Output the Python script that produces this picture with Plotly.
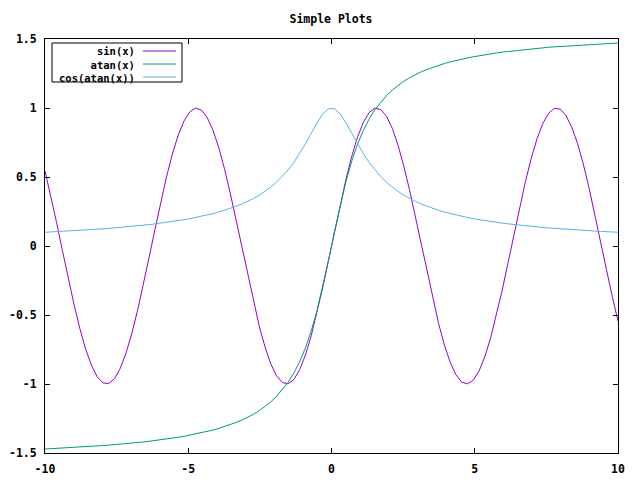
import plotly.graph_objects as go

x = [-10.000, -9.798, -9.596, -9.394, -9.192, -8.990, -8.788, -8.586, -8.384, -8.182,
     -7.980, -7.778, -7.576, -7.374, -7.172, -6.970, -6.768, -6.566, -6.364, -6.162,
     -5.960, -5.758, -5.556, -5.354, -5.152, -4.949, -4.747, -4.545, -4.343, -4.141,
     -3.939, -3.737, -3.535, -3.333, -3.131, -2.929, -2.727, -2.525, -2.323, -2.121,
     -1.919, -1.717, -1.515, -1.313, -1.111, -0.909, -0.707, -0.505, -0.303, -0.101,
     0.101, 0.303, 0.505, 0.707, 0.909, 1.111, 1.313, 1.515, 1.717, 1.919,
     2.121, 2.323, 2.525, 2.727, 2.929, 3.131, 3.333, 3.535, 3.737, 3.939,
     4.141, 4.343, 4.545, 4.747, 4.949, 5.152, 5.354, 5.556, 5.758, 5.960,
     6.162, 6.364, 6.566, 6.768, 6.970, 7.172, 7.374, 7.576, 7.778, 7.980,
     8.182, 8.384, 8.586, 8.788, 8.990, 9.192, 9.394, 9.596, 9.798, 10.000]

sin_x = [0.544, 0.365, 0.170, -0.031, -0.231, -0.421, -0.595, -0.744, -0.862, -0.946,
         -0.992, -0.997, -0.962, -0.887, -0.776, -0.634, -0.466, -0.279, -0.081, 0.121,
         0.318, 0.501, 0.665, 0.801, 0.905, 0.972, 0.999, 0.986, 0.933, 0.841,
         0.716, 0.561, 0.383, 0.190, -0.011, -0.211, -0.403, -0.578, -0.730, -0.853,
         -0.940, -0.989, -0.999, -0.967, -0.896, -0.789, -0.650, -0.484, -0.298, -0.101,
         0.101, 0.298, 0.484, 0.650, 0.789, 0.896, 0.967, 0.999, 0.989, 0.940,
         0.853, 0.730, 0.578, 0.403, 0.211, 0.011, -0.190, -0.383, -0.561, -0.716,
         -0.841, -0.933, -0.986, -0.999, -0.972, -0.905, -0.801, -0.665, -0.501, -0.318,
         -0.121, 0.081, 0.279, 0.466, 0.634, 0.776, 0.887, 0.962, 0.997, 0.992,
         0.946, 0.862, 0.744, 0.595, 0.421, 0.231, 0.031, -0.170, -0.365, -0.544]

atan_x = [-1.471, -1.469, -1.467, -1.465, -1.462, -1.460, -1.458, -1.455, -1.452, -1.449,
          -1.446, -1.443, -1.440, -1.436, -1.432, -1.428, -1.424, -1.420, -1.415, -1.410,
          -1.405, -1.399, -1.393, -1.386, -1.379, -1.371, -1.363, -1.354, -1.345, -1.334,
          -1.322, -1.309, -1.295, -1.279, -1.262, -1.242, -1.220, -1.194, -1.165, -1.130,
          -1.090, -1.043, -0.988, -0.920, -0.838, -0.738, -0.615, -0.468, -0.294, -0.101,
          0.101, 0.294, 0.468, 0.615, 0.738, 0.838, 0.920, 0.988, 1.043, 1.090,
          1.130, 1.165, 1.194, 1.220, 1.242, 1.262, 1.279, 1.295, 1.309, 1.322,
          1.334, 1.345, 1.354, 1.363, 1.371, 1.379, 1.386, 1.393, 1.399, 1.405,
          1.410, 1.415, 1.420, 1.424, 1.428, 1.432, 1.436, 1.440, 1.443, 1.446,
          1.449, 1.452, 1.455, 1.458, 1.460, 1.462, 1.465, 1.467, 1.469, 1.471]

cos_atan_x = [0.0995, 0.1015, 0.1037, 0.1059, 0.1082, 0.1106, 0.1131, 0.1157, 0.1184, 0.1213,
              0.1243, 0.1275, 0.1309, 0.1344, 0.1381, 0.1420, 0.1462, 0.1506, 0.1552, 0.1602,
              0.1655, 0.1711, 0.1771, 0.1836, 0.1906, 0.1981, 0.2062, 0.2149, 0.2244, 0.2347,
              0.2460, 0.2585, 0.2722, 0.2874, 0.3043, 0.3231, 0.3443, 0.3682, 0.3954, 0.4264,
              0.4621, 0.5033, 0.5509, 0.6059, 0.6690, 0.7400, 0.8165, 0.8926, 0.9570, 0.9949,
              0.9949, 0.9570, 0.8926, 0.8165, 0.7400, 0.6690, 0.6059, 0.5509, 0.5033, 0.4621,
              0.4264, 0.3954, 0.3682, 0.3443, 0.3231, 0.3043, 0.2874, 0.2722, 0.2585, 0.2460,
              0.2347, 0.2244, 0.2149, 0.2062, 0.1981, 0.1906, 0.1836, 0.1771, 0.1711, 0.1655,
              0.1602, 0.1552, 0.1506, 0.1462, 0.1420, 0.1381, 0.1344, 0.1309, 0.1275, 0.1243,
              0.1213, 0.1184, 0.1157, 0.1131, 0.1106, 0.1082, 0.1059, 0.1037, 0.1015, 0.0995]

series_names = ["sin(x)", "atan(x)", "cos(atan(x))"]
series_colors = ["#9400D3", "#009E73", "#56B4E9"]
x_tickvals = [-10, -5, 0, 5, 10]
x_ticktext = ["-10", "-5", "0", "5", "10"]
y_tickvals = [-1.5, -1, -0.5, 0, 0.5, 1, 1.5]
y_ticktext = ["-1.5", "-1", "-0.5", "0", "0.5", "1", "1.5"]
title = "Simple Plots"

FONT = "DejaVu Sans Mono"
OFF = 8  # page body margin
W, H = 640 - OFF, 480 - OFF
# plot area in screen pixels: 45..618 (x), 39..453 (y)
SX0, SX1, SY0, SY1 = 45, 618, 39, 453
L = SX0 - OFF
T = SY0 - OFF
R = W + OFF - SX1
B = H + OFF - SY1

fig = go.Figure()
for name, ys, col in zip(series_names, [sin_x, atan_x, cos_atan_x], series_colors):
    fig.add_trace(go.Scatter(x=x, y=ys, mode="lines", name=name,
                             line=dict(color=col, width=1), showlegend=False))

tfont = dict(family=FONT, size=11.5, color="black", weight="bold")
lfont = dict(family=FONT, size=10.5, color="black", weight="bold")
axis_common = dict(showgrid=False, zeroline=False, showline=True, linecolor="black",
                   linewidth=1, mirror="allticks", ticks="inside", ticklen=5,
                   tickcolor="black", tickwidth=1, tickfont=tfont, automargin=False)
fig.update_xaxes(range=[-10, 10], tickmode="array", tickvals=x_tickvals,
                 ticktext=x_ticktext, ticklabelstandoff=5, **axis_common)
fig.update_yaxes(range=[-1.5, 1.5], tickmode="array", tickvals=y_tickvals,
                 ticktext=y_ticktext, ticklabelstandoff=5, **axis_common)

def px(xs):
    return (xs - SX0) / (SX1 - SX0)
def py(ys):
    return 1 - (ys - SY0) / (SY1 - SY0)

shapes = [dict(type="rect", xref="paper", yref="paper",
               x0=px(52), x1=px(182), y0=py(82), y1=py(43),
               line=dict(color="black", width=1), fillcolor="white", layer="above")]
rows = [51, 64, 77]
for col, yr in zip(series_colors, rows):
    shapes.append(dict(type="line", xref="paper", yref="paper",
                       x0=px(143), x1=px(176), y0=py(yr), y1=py(yr),
                       line=dict(color=col, width=1), layer="above"))
annotations = [dict(text="<br>".join(series_names), xref="paper", yref="paper",
                    x=px(136), y=py(64.5), xanchor="right", yanchor="middle",
                    align="right", showarrow=False, borderpad=0, font=lfont)]

fig.update_layout(
    width=W, height=H,
    margin=dict(l=L, r=R, t=T, b=B, autoexpand=False),
    paper_bgcolor="white", plot_bgcolor="white",
    title=dict(text=title, x=(331 - OFF) / W, xanchor="center",
               y=1 - (19 - OFF) / H, yanchor="middle", font=tfont),
    shapes=shapes, annotations=annotations,
)

fig.write_html("out.html")
